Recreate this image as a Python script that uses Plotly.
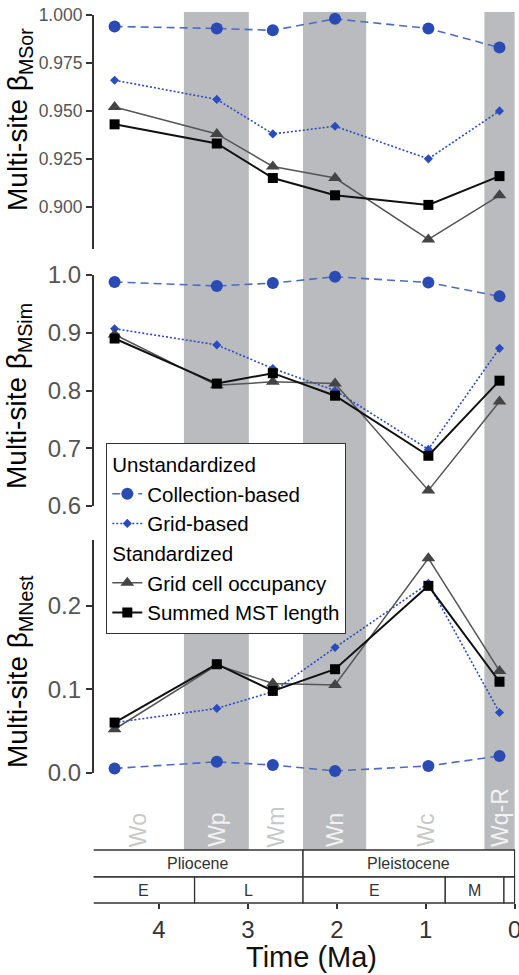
import plotly.graph_objects as go

# ---------------- data ----------------
time_ma = [4.50, 3.35, 2.72, 2.02, 0.97, 0.17]

sor_collection = [0.994, 0.993, 0.992, 0.998, 0.993, 0.983]
sor_grid = [0.966, 0.956, 0.938, 0.942, 0.925, 0.950]
sor_occupancy = [0.952, 0.938, 0.921, 0.915, 0.883, 0.906]
sor_mst = [0.943, 0.933, 0.915, 0.906, 0.901, 0.916]

sim_collection = [0.988, 0.981, 0.986, 0.997, 0.987, 0.963]
sim_grid = [0.907, 0.879, 0.838, 0.800, 0.698, 0.873]
sim_occupancy = [0.897, 0.809, 0.815, 0.812, 0.627, 0.781]
sim_mst = [0.890, 0.812, 0.830, 0.791, 0.687, 0.817]

nest_collection = [0.005, 0.013, 0.009, 0.002, 0.008, 0.020]
nest_grid = [0.060, 0.077, 0.097, 0.150, 0.227, 0.072]
nest_occupancy = [0.052, 0.129, 0.107, 0.105, 0.257, 0.122]
nest_mst = [0.060, 0.130, 0.098, 0.124, 0.224, 0.109]

zone_edges = [4.75, 3.72, 2.99, 2.38, 1.67, 0.34, 0.0]
zone_labels = ["Wo", "Wp", "Wm", "Wn", "Wc", "Wq-R"]
zone_shaded = [False, True, False, True, False, True]

epoch_edges = [4.75, 2.38, 0.0]
epoch_labels = ["Pliocene", "Pleistocene"]
subepoch_edges = [4.75, 3.60, 2.38, 0.78, 0.12, 0.0]
subepoch_labels = ["E", "L", "E", "M", ""]

x_ticks = [4, 3, 2, 1, 0]

panel_titles = ["Multi-site β<sub>MSor</sub>", "Multi-site β<sub>MSim</sub>", "Multi-site β<sub>MNest</sub>"]

# ---------------- styling ----------------
FONT = "Liberation Sans, Arial, Helvetica, sans-serif"
W, H = 519, 975
BAND = "#babbbf"
AXC = "#333333"


def py(p):
    return 1 - p / H


series_styles = [
    dict(name="Collection-based", group="u", gtitle="Unstandardized",
         line=dict(color="#4a6cc9", width=1.6, dash="8px,5px"),
         marker=dict(symbol="circle", size=12, color="#2a4bb3")),
    dict(name="Grid-based", group="u", gtitle="Unstandardized",
         line=dict(color="#2a4bc0", width=1.6, dash="2px,2px"),
         marker=dict(symbol="diamond", size=7, color="#2a4bc0")),
    dict(name="Grid cell occupancy", group="s", gtitle="Standardized",
         line=dict(color="#555555", width=1.5),
         marker=dict(symbol="triangle-up", size=12, color="#444444")),
    dict(name="Summed MST length", group="s", gtitle="Standardized",
         line=dict(color="#111111", width=2),
         marker=dict(symbol="square", size=10, color="#000000")),
]

panels = [
    ("y", [sor_collection, sor_grid, sor_occupancy, sor_mst]),
    ("y2", [sim_collection, sim_grid, sim_occupancy, sim_mst]),
    ("y3", [nest_collection, nest_grid, nest_occupancy, nest_mst]),
]

fig = go.Figure()
for pi, (yax, series) in enumerate(panels):
    for st, vals in zip(series_styles, series):
        fig.add_trace(go.Scatter(
            x=time_ma, y=vals, xaxis="x", yaxis=yax,
            mode="lines+markers", name=st["name"],
            line=st["line"], marker=st["marker"],
            legendgroup=st["group"],
            legendgrouptitle=dict(text=st["gtitle"], font=dict(size=20.5, color="#000", family=FONT)) if pi == 0 else None,
            showlegend=(pi == 0), cliponaxis=False,
        ))

shapes = []
annotations = []

# zone bands and labels
band_top, band_bot = py(12), py(850)
for i, lab in enumerate(zone_labels):
    x0, x1 = zone_edges[i], zone_edges[i + 1]
    if zone_shaded[i]:
        shapes.append(dict(type="rect", xref="x", yref="paper", x0=x0, x1=x1,
                           y0=band_bot, y1=band_top, fillcolor=BAND, line=dict(width=0), layer="below"))
    annotations.append(dict(xref="x", yref="paper", x=(x0 + x1) / 2, y=py(849),
                            text=lab, showarrow=False, textangle=-90,
                            xanchor="center", yanchor="bottom",
                            font=dict(size=23, family=FONT,
                                      color="#f2f2f2" if zone_shaded[i] else "#c8c8c8")))

# timescale boxes
row1 = (py(850), py(877))
row2 = (py(877), py(903))
for edges, labels, (ya, yb), fs in [(epoch_edges, epoch_labels, row1, 16),
                                    (subepoch_edges, subepoch_labels, row2, 16)]:
    for i, lab in enumerate(labels):
        x0, x1 = edges[i], edges[i + 1]
        shapes.append(dict(type="rect", xref="x", yref="paper", x0=x0, x1=x1,
                           y0=yb, y1=ya, fillcolor="white", line=dict(color=AXC, width=1.3)))
        if lab:
            annotations.append(dict(xref="x", yref="paper", x=(x0 + x1) / 2, y=(ya + yb) / 2,
                                    text=lab, showarrow=False, xanchor="center", yanchor="middle",
                                    font=dict(size=fs, family=FONT, color="#333")))

# y-axis titles
for title, ycen in zip(panel_titles, [120, 396, 672]):
    annotations.append(dict(xref="paper", yref="paper", x=19 / W, y=py(ycen), text=title,
                            showarrow=False, textangle=-90, xanchor="center", yanchor="middle",
                            font=dict(size=28, family=FONT, color="#000")))

# x title
annotations.append(dict(xref="paper", yref="paper", x=311 / W, y=py(957), text="Time (Ma)",
                        showarrow=False, xanchor="center", yanchor="middle",
                        font=dict(size=29, family=FONT, color="#111")))

yaxis_common = dict(anchor="x", showgrid=False, zeroline=False, showline=True,
                    linecolor=AXC, linewidth=1.5, ticks="outside", ticklen=6,
                    tickcolor=AXC, tickwidth=1.5, automargin=False)

fig.update_layout(
    width=W, height=H,
    margin=dict(l=0, r=0, t=0, b=0, pad=0, autoexpand=False),
    paper_bgcolor="white", plot_bgcolor="rgba(0,0,0,0)",
    font=dict(family=FONT, color="#555"),
    showlegend=True,
    xaxis=dict(domain=[93.7 / W, 515.5 / W], range=[4.735, -0.01], anchor="free",
               position=py(903), showgrid=False, zeroline=False, showline=False,
               tickvals=x_ticks, ticktext=[str(t) for t in x_ticks], automargin=False,
               ticklabeloverflow="allow",
               ticks="outside", ticklen=5, tickcolor=AXC, tickwidth=1.5,
               tickfont=dict(size=24, color="#333", family=FONT)),
    yaxis=dict(domain=[py(249), py(15)], range=[0.878, 1.0],
               tickvals=[0.9, 0.925, 0.95, 0.975, 1.0],
               ticktext=["0.900", "0.925", "0.950", "0.975", "1.000"],
               tickfont=dict(size=17.5, color="#555", family=FONT), **yaxis_common),
    yaxis2=dict(domain=[py(506), py(275)], range=[0.6, 1.0],
                tickvals=[0.6, 0.7, 0.8, 0.9, 1.0],
                ticktext=["0.6", "0.7", "0.8", "0.9", "1.0"],
                tickfont=dict(size=24, color="#555", family=FONT), **yaxis_common),
    yaxis3=dict(domain=[py(772.6), py(540)], range=[0.0, 0.279],
                tickvals=[0.0, 0.1, 0.2], ticktext=["0.0", "0.1", "0.2"],
                tickfont=dict(size=24, color="#555", family=FONT), **yaxis_common),
    legend=dict(x=106 / W, y=py(443), xanchor="left", yanchor="top",
                bgcolor="white", bordercolor=AXC, borderwidth=1.3,
                font=dict(size=20.5, color="#000", family=FONT),
                traceorder="grouped", tracegroupgap=0, itemwidth=30),
    shapes=shapes, annotations=annotations,
)

fig.write_html("out.html", config={"displayModeBar": False},
               post_script="document.body.style.margin='0';document.body.style.overflow='hidden';")
